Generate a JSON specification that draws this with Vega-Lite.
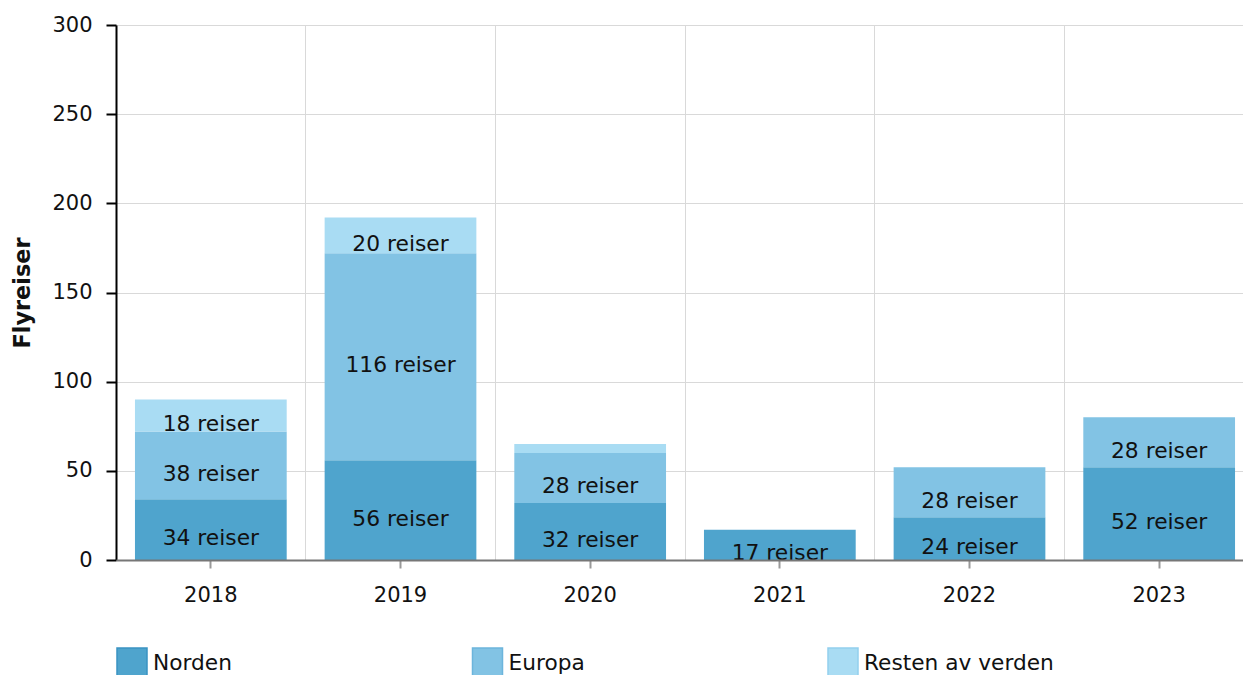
{
  "$schema": "https://vega.github.io/schema/vega-lite/v6.json",
  "width": 1127,
  "height": 535,
  "autosize": "none",
  "padding": {"left": 116, "top": 25, "right": 0, "bottom": 115},
  "config": {"font": "DejaVu Sans", "view": {"stroke": null}},
  "data": {
    "values": [
      {"year": "2018", "region": "Norden", "value": 34},
      {"year": "2018", "region": "Europa", "value": 38},
      {"year": "2018", "region": "Resten av verden", "value": 18},
      {"year": "2019", "region": "Norden", "value": 56},
      {"year": "2019", "region": "Europa", "value": 116},
      {"year": "2019", "region": "Resten av verden", "value": 20},
      {"year": "2020", "region": "Norden", "value": 32},
      {"year": "2020", "region": "Europa", "value": 28},
      {"year": "2020", "region": "Resten av verden", "value": 5},
      {"year": "2021", "region": "Norden", "value": 17},
      {"year": "2022", "region": "Norden", "value": 24},
      {"year": "2022", "region": "Europa", "value": 28},
      {"year": "2023", "region": "Norden", "value": 52},
      {"year": "2023", "region": "Europa", "value": 28}
    ]
  },
  "transform": [
    {"calculate": "indexof(['Norden','Europa','Resten av verden'], datum.region)", "as": "ord"},
    {"stack": "value", "groupby": ["year"], "sort": [{"field": "ord", "order": "ascending"}], "as": ["y0", "y1"]},
    {"calculate": "(datum.y0 + datum.y1) / 2", "as": "mid"},
    {"calculate": "datum.value + ' reiser'", "as": "label"}
  ],
  "layer": [
    {
      "mark": {"type": "bar", "strokeWidth": 0},
      "encoding": {
        "x": {
          "field": "year", "type": "ordinal",
          "scale": {"range": [0, 1138], "paddingInner": 0.2, "paddingOuter": 0.1},
          "axis": {"orient": "bottom", "bandPosition": -0.125, "grid": true, "gridColor": "#d9d9d9", "gridWidth": 1, "ticks": false, "labels": false, "domain": false, "title": null}
        },
        "y": {
          "field": "y0", "type": "quantitative",
          "scale": {"domain": [0, 300]},
          "title": "Flyreiser",
          "axis": {
            "values": [0, 50, 100, 150, 200, 250, 300],
            "grid": true, "gridColor": "#d9d9d9", "gridWidth": 1,
            "domainColor": "#000000", "domainWidth": 2,
            "tickColor": "#000000", "tickSize": 10, "tickWidth": 2,
            "labelFontSize": 21, "labelColor": "#111111", "labelPadding": 14,
            "titleFontSize": 22.4, "titleFontWeight": "bold", "titleColor": "#111111",
            "titleX": -94, "titleY": 267.5, "titleBaseline": "middle", "titleAlign": "center", "titleAngle": 270
          }
        },
        "y2": {"field": "y1"},
        "color": {
          "field": "region", "type": "nominal",
          "scale": {"domain": ["Norden", "Europa", "Resten av verden"], "range": ["#4fa4cd", "#82c3e4", "#a9dcf3"]},
          "legend": {
            "orient": "none", "legendX": 0, "legendY": 622, "direction": "horizontal", "columns": 3,
            "title": null, "symbolType": "square", "symbolSize": 900, "symbolStrokeWidth": 1.5,
            "labelFontSize": 21.7, "labelColor": "#111111", "labelLimit": 400, "labelOffset": 5,
            "columnPadding": 126.5, "gridAlign": "all"
          }
        },
        "stroke": {
          "field": "region", "type": "nominal",
          "scale": {"domain": ["Norden", "Europa", "Resten av verden"], "range": ["#3a93c2", "#6cb5dc", "#92cfee"]},
          "legend": {
            "orient": "none", "legendX": 0, "legendY": 622, "direction": "horizontal", "columns": 3,
            "title": null, "symbolType": "square", "symbolSize": 900, "symbolStrokeWidth": 1.5,
            "labelFontSize": 21.7, "labelColor": "#111111", "labelLimit": 400, "labelOffset": 5,
            "columnPadding": 126.5, "gridAlign": "all"
          }
        }
      }
    },
    {
      "transform": [{"filter": "datum.value >= 10"}],
      "mark": {"type": "text", "baseline": "middle", "dy": 8.5, "fontSize": 21.8, "color": "#111111"},
      "encoding": {
        "x": {
          "field": "year", "type": "ordinal",
          "axis": {"orient": "bottom", "grid": false, "domainColor": "#777777", "domainWidth": 2, "tickColor": "#999999", "tickSize": 8, "tickWidth": 2, "labelFontSize": 21, "labelColor": "#111111", "labelPadding": 16, "labelAngle": 0, "title": null, "zindex": 1}
        },
        "y": {"field": "mid", "type": "quantitative", "axis": null},
        "text": {"field": "label"}
      }
    }
  ],
  "resolve": {"axis": {"x": "independent", "y": "independent"}}
}
